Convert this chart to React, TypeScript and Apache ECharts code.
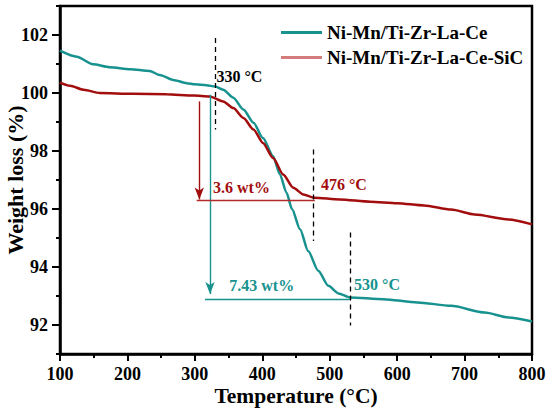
import React, { useEffect, useRef } from "react";
import * as echarts from "echarts";

const FONT = "'Liberation Serif', 'Times New Roman', serif";
const TEAL = "#17928e";
const RED = "#a20d0d";

const seriesNames = ["Ni-Mn/Ti-Zr-La-Ce", "Ni-Mn/Ti-Zr-La-Ce-SiC"];

const tealTemps = [100, 125, 149, 174, 204, 233, 248, 268, 288, 300, 317, 330, 342, 357, 372, 387, 401, 416, 426, 436, 444, 456, 468, 483, 498, 513, 530, 580, 630, 680, 730, 765, 800];
const tealValues = [101.46, 101.25, 100.99, 100.89, 100.82, 100.76, 100.62, 100.45, 100.34, 100.3, 100.27, 100.22, 100.11, 99.84, 99.43, 98.97, 98.45, 97.82, 97.2, 96.56, 96.0, 95.3, 94.55, 93.87, 93.35, 93.09, 92.95, 92.89, 92.78, 92.66, 92.43, 92.26, 92.12];

const redTemps = [100, 115, 135, 159, 208, 258, 298, 322, 342, 357, 372, 387, 401, 416, 431, 446, 461, 477, 515, 560, 600, 640, 680, 715, 765, 800];
const redValues = [100.36, 100.25, 100.11, 100.0, 99.97, 99.96, 99.91, 99.88, 99.71, 99.48, 99.14, 98.74, 98.28, 97.76, 97.19, 96.73, 96.5, 96.39, 96.33, 96.25, 96.2, 96.12, 95.98, 95.81, 95.64, 95.47];

// onset / end temperatures: [temperature, yTop, yBottom]
const dashedMarks = [
  [330, 101.9, 98.74],
  [476, 98.05, 94.9],
  [530, 95.19, 91.98],
];

// weight-loss arrows: [temperature, from, to]
const redArrow = [306.6, 99.71, 96.33];
const tealArrow = [322.5, 99.94, 93.07];
// weight-loss baselines: [fromTemp, toTemp, value]
const redBase = [302.7, 478, 96.3];
const tealBase = [315, 530, 92.9];

const annotations = [
  { text: "330 °C", x: 332, y: 100.57, color: "#000" },
  { text: "3.6 wt%", x: 327, y: 96.74, color: RED },
  { text: "476 °C", x: 487, y: 96.85, color: RED },
  { text: "7.43 wt%", x: 351, y: 93.35, color: TEAL },
  { text: "530 °C", x: 536, y: 93.41, color: TEAL },
];

const yMajor = [92, 94, 96, 98, 100, 102];
const yMinor = [91, 93, 95, 97, 99, 101, 103];

export default function App() {
  const ref = useRef<HTMLDivElement>(null);
  useEffect(() => {
    document.body.style.margin = "0";
    const chart = echarts.init(ref.current!, null, { renderer: "svg" });
    const zip = (a: number[], b: number[]) => a.map((v, i) => [v, b[i]]);
    const axisLine = { show: true, lineStyle: { color: "#000", width: 2.5 } };
    const labelStyle = { color: "#000", fontFamily: FONT, fontWeight: "bold", fontSize: 18 };

    const markData: any[] = [];
    dashedMarks.forEach((d) => {
      markData.push([
        { coord: [d[0], d[1]], lineStyle: { color: "#000", type: [5, 4], width: 1.3 } },
        { coord: [d[0], d[2]] },
      ]);
    });
    markData.push([
      { coord: [redArrow[0], redArrow[1]], lineStyle: { color: RED, width: 1.4, type: "solid" } },
      { coord: [redArrow[0], redArrow[2]], symbol: "arrow" },
    ]);
    markData.push([
      { coord: [tealArrow[0], tealArrow[1]], lineStyle: { color: TEAL, width: 1.4, type: "solid" } },
      { coord: [tealArrow[0], tealArrow[2]], symbol: "arrow" },
    ]);
    markData.push([
      { coord: [redBase[0], redBase[2]], lineStyle: { color: "#b52a2a", width: 1.4, type: "solid" } },
      { coord: [redBase[1], redBase[2]] },
    ]);
    markData.push([
      { coord: [tealBase[0], tealBase[2]], lineStyle: { color: TEAL, width: 1.4, type: "solid" } },
      { coord: [tealBase[1], tealBase[2]] },
    ]);

    chart.setOption({
      animation: false,
      grid: {
        left: 60,
        right: 18,
        top: 6,
        bottom: 57,
        show: true,
        borderColor: "#000",
        borderWidth: 2.5,
        containLabel: false,
        outerBoundsMode: "none",
      },
      legend: {
        orient: "vertical",
        left: 276,
        top: 18,
        icon: "rect",
        itemWidth: 41,
        itemHeight: 3,
        itemGap: 6,
        textStyle: { ...labelStyle, fontSize: 19, lineHeight: 19 },
        data: [
          { name: seriesNames[0], itemStyle: { color: TEAL } },
          { name: seriesNames[1], itemStyle: { color: "#d47b7b" } },
        ],
      },
      xAxis: {
        type: "value",
        min: 100,
        max: 800,
        interval: 100,
        axisLine,
        axisTick: { show: true, length: 7, lineStyle: { color: "#000", width: 2 } },
        minorTick: { show: true, splitNumber: 2, length: 4, lineStyle: { color: "#000", width: 2 } },
        splitLine: { show: false },
        axisLabel: { ...labelStyle, margin: 11 },
        name: "Temperature (°C)",
        nameLocation: "middle",
        nameGap: 31,
        nameMoveOverlap: false,
        nameTextStyle: { ...labelStyle, fontSize: 21.5 },
      },
      yAxis: [
        {
          type: "value",
          min: 91,
          max: 103,
          axisLine,
          axisTick: { show: true, length: 8, customValues: yMajor, lineStyle: { color: "#000", width: 2 } },
          axisLabel: { ...labelStyle, margin: 12, customValues: yMajor },
          splitLine: { show: false },
          name: "Weight loss (%)",
          nameLocation: "middle",
          nameGap: 34,
          nameMoveOverlap: false,
          nameTextStyle: { ...labelStyle, fontSize: 22 },
        },
        {
          type: "value",
          min: 91,
          max: 103,
          position: "left",
          axisLine: { show: false },
          axisTick: { show: true, length: 4, customValues: yMinor, lineStyle: { color: "#000", width: 2 } },
          axisLabel: { show: false },
          splitLine: { show: false },
        },
      ],
      series: [
        {
          name: seriesNames[0],
          type: "line",
          data: zip(tealTemps, tealValues),
          symbol: "none",
          smooth: 0.25,
          smoothMonotone: "x",
          lineStyle: { color: TEAL, width: 2.5 },
          itemStyle: { color: TEAL },
          z: 3,
        },
        {
          name: seriesNames[1],
          type: "line",
          data: zip(redTemps, redValues),
          symbol: "none",
          smooth: 0.25,
          smoothMonotone: "x",
          lineStyle: { color: RED, width: 2.5 },
          itemStyle: { color: RED },
          z: 4,
          markLine: {
            silent: true,
            symbol: ["none", "none"],
            symbolSize: [7, 12],
            label: { show: false },
            data: markData,
          },
        },
        {
          type: "scatter",
          symbolSize: 0,
          silent: true,
          data: annotations.map((a) => ({
            value: [a.x, a.y],
            name: a.text,
            label: { color: a.color },
          })),
          label: {
            show: true,
            position: "right",
            distance: 0,
            formatter: "{b}",
            fontFamily: FONT,
            fontWeight: "bold",
            fontSize: 16,
            textBorderWidth: 0,
            opacity: 1,
          },
          z: 5,
        },
      ],
    });
    return () => chart.dispose();
  }, []);
  return <div ref={ref} style={{ width: 550, height: 411 }} />;
}
